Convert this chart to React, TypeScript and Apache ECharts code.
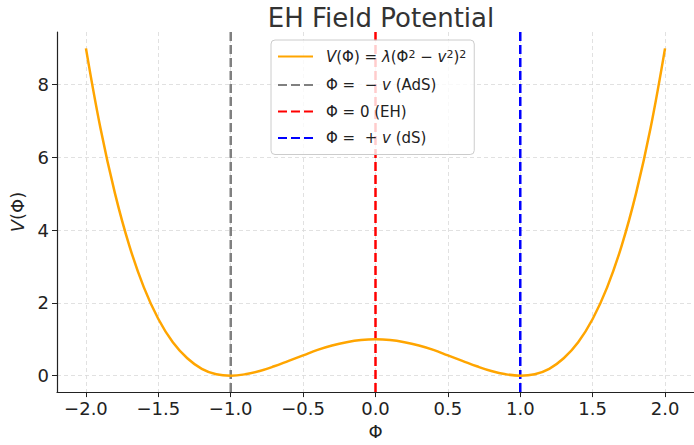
import React, { useEffect, useRef } from "react";
import * as echarts from "echarts";

const phi: number[] = [
  -2.0, -1.9, -1.8, -1.7, -1.6, -1.5, -1.4, -1.3, -1.2, -1.1, -1.0, -0.9, -0.8, -0.7, -0.6, -0.5, -0.4, -0.3, -0.2, -0.1,
  0.0, 0.1, 0.2, 0.3, 0.4, 0.5, 0.6, 0.7, 0.8, 0.9, 1.0, 1.1, 1.2, 1.3, 1.4, 1.5, 1.6, 1.7, 1.8, 1.9, 2.0,
];
const potential: number[] = [
  9.0, 6.81, 5.02, 3.57, 2.43, 1.56, 0.92, 0.48, 0.19, 0.04, 0.0, 0.04, 0.13, 0.26, 0.41, 0.56, 0.71, 0.83, 0.92, 0.98,
  1.0, 0.98, 0.92, 0.83, 0.71, 0.56, 0.41, 0.26, 0.13, 0.04, 0.0, 0.04, 0.19, 0.48, 0.92, 1.56, 2.43, 3.57, 5.02, 6.81, 9.0,
];
const vlinePositions: number[] = [-1, 0, 1];
const xTicks: number[] = [-2.0, -1.5, -1.0, -0.5, 0.0, 0.5, 1.0, 1.5, 2.0];
const yTicks: number[] = [0, 2, 4, 6, 8];
const xLimits: number[] = [-2.2, 2.2];
const yLimits: number[] = [-0.45, 9.45];

const FONT = "DejaVu Sans";

export default function App() {
  const ref = useRef<HTMLDivElement>(null);
  useEffect(() => {
    if (!ref.current) return;
    const chart = echarts.init(ref.current, null, { renderer: "svg" });
    const dashColors = ["#808080", "#ff0000", "#0000ff"];
    const dashNames = ["ads", "eh", "ds"];
    const legendText: Record<string, string> = {
      curve: "{i|V}(Φ) = {i|λ}(Φ{s|2} − {i|v}{s|2}){s|2}",
      ads: "Φ =  − {i|v} (AdS)",
      eh: "Φ = 0 (EH)",
      ds: "Φ =  + {i|v} (dS)",
    };
    const vSeries = vlinePositions.map((x, i) => ({
      name: dashNames[i],
      type: "line",
      symbol: "none",
      silent: true,
      z: 3,
      data: [
        [x, yLimits[0]],
        [x, yLimits[1]],
      ],
      lineStyle: { color: dashColors[i], width: 2.5, type: [9, 4] },
      itemStyle: { color: dashColors[i] },
    }));
    const gridDash = { color: "#d9d9d9", width: 0.8, type: [4, 3] };
    chart.setOption({
      animation: false,
      textStyle: { fontFamily: FONT },
      title: {
        text: "EH Field Potential",
        left: 376,
        textAlign: "center",
        top: 0,
        textStyle: { fontFamily: FONT, fontSize: 26, fontWeight: "normal", color: "#333" },
      },
      grid: { left: 57, right: -2, top: 32, bottom: 50 },
      legend: {
        orient: "vertical",
        left: 271,
        top: 40,
        padding: [9, 8, 9, 6],
        itemWidth: 35,
        itemHeight: 14,
        itemGap: 11.5,
        borderColor: "#cccccc",
        borderWidth: 1,
        borderRadius: 4,
        backgroundColor: "rgba(255,255,255,0.8)",
        itemStyle: { opacity: 0 },
        data: ["curve", ...dashNames],
        formatter: (name: string) => legendText[name],
        textStyle: {
          fontFamily: FONT,
          fontSize: 15,
          color: "#222",
          padding: [0, 0, 0, 8],
          rich: {
            i: { fontStyle: "italic", fontFamily: FONT, fontSize: 15, color: "#222" },
            s: { fontFamily: FONT, fontSize: 11, color: "#222", verticalAlign: "top", lineHeight: 14, padding: [0, 0, 6, 0] },
          },
        },
      },
      xAxis: {
        type: "value",
        min: xLimits[0],
        max: xLimits[1],
        name: "Φ",
        nameLocation: "middle",
        nameGap: 28,
        nameTextStyle: { fontFamily: FONT, fontSize: 18, color: "#222" },
        axisLine: { onZero: false, lineStyle: { color: "#222", width: 1.2 } },
        axisTick: { show: true, customValues: xTicks, length: 5, lineStyle: { color: "#222" } },
        axisLabel: {
          customValues: xTicks,
          fontFamily: FONT,
          fontSize: 18,
          color: "#222",
          margin: 7,
          formatter: (v: number) => v.toFixed(1).replace("-", "−"),
        },
        splitLine: { show: true, lineStyle: gridDash },
      },
      yAxis: {
        type: "value",
        min: yLimits[0],
        max: yLimits[1],
        name: "{i|V}(Φ)",
        nameLocation: "middle",
        nameGap: 29,
        nameRotate: 90,
        nameTextStyle: {
          fontFamily: FONT,
          fontSize: 18,
          color: "#222",
          rich: { i: { fontStyle: "italic", fontFamily: FONT, fontSize: 18, color: "#222" } },
        },
        axisLine: { show: true, onZero: false, lineStyle: { color: "#222", width: 1.2 } },
        axisTick: { show: true, customValues: yTicks, length: 5, lineStyle: { color: "#222" } },
        axisLabel: {
          customValues: yTicks,
          fontFamily: FONT,
          fontSize: 18,
          color: "#222",
          margin: 8,
          formatter: (v: number) => String(v),
        },
        splitLine: { show: true, lineStyle: gridDash },
      },
      series: [
        {
          name: "curve",
          type: "line",
          symbol: "none",
          smooth: 0.4,
          z: 4,
          data: phi.map((x, i) => [x, potential[i]]),
          lineStyle: { color: "#FFA500", width: 2.5 },
          itemStyle: { color: "#FFA500" },
        },
        ...vSeries,
      ],
    });
    return () => chart.dispose();
  }, []);
  return <div ref={ref} style={{ width: 694, height: 445, position: "absolute", left: 0, top: 0 }} />;
}
